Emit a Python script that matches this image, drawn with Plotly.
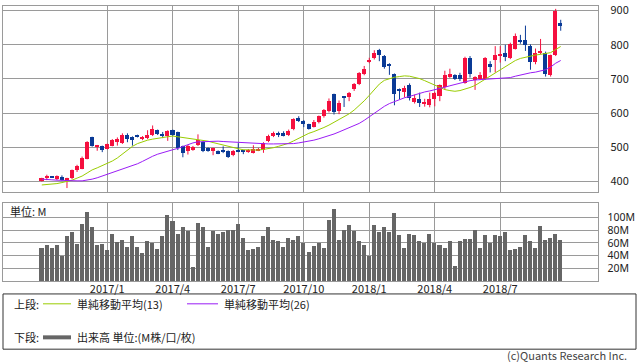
import pandas as pd
import plotly.graph_objects as go

# ---------------- data (weekly) ----------------
weeks = pd.date_range("2016-10-03", periods=104, freq="7D")

opens = [404, 411, 415, 408, 414, 404, 409, 434, 438, 467,
         529, 502, 503, 496, 505, 515, 514, 535, 530, 535,
         524, 527, 537, 550, 536, 532, 550, 544, 503, 488,
         493, 508, 515, 498, 489, 489, 489, 489, 477, 493,
         491, 487, 484, 491, 491, 519, 534, 542, 542, 535,
         553, 585, 577, 567, 561, 575, 591, 606, 655, 606,
         648, 647, 671, 686, 714, 751, 760, 784, 767, 741,
         714, 671, 663, 683, 633, 642, 630, 623, 642, 649,
         676, 707, 711, 711, 688, 762, 697, 700, 700, 743,
         756, 768, 775, 762, 788, 815, 813, 796, 750, 778,
         777, 711, 769, 865]
highs = [411, 420, 416, 418, 418, 411, 435, 449, 473, 518,
         531, 507, 505, 511, 524, 529, 541, 541, 532, 537,
         533, 550, 564, 552, 545, 550, 552, 546, 505, 507,
         504, 538, 518, 500, 499, 491, 503, 491, 492, 512,
         493, 495, 506, 498, 515, 537, 546, 546, 547, 552,
         585, 591, 580, 569, 580, 593, 612, 643, 657, 637,
         649, 662, 688, 720, 738, 762, 784, 788, 770, 746,
         716, 672, 680, 687, 654, 660, 642, 660, 662, 684,
         724, 730, 714, 718, 765, 767, 708, 720, 764, 752,
         796, 796, 800, 806, 833, 829, 856, 801, 789, 817,
         780, 771, 905, 873]
lows = [400, 404, 411, 404, 403, 381, 407, 428, 436, 465,
        502, 490, 486, 494, 503, 505, 510, 515, 505, 529,
        521, 524, 533, 536, 527, 519, 533, 492, 471, 479,
        490, 504, 486, 487, 477, 480, 483, 469, 474, 486,
        480, 484, 482, 489, 484, 515, 530, 530, 532, 533,
        550, 574, 559, 552, 558, 570, 587, 602, 596, 597,
        618, 635, 665, 682, 711, 746, 757, 752, 730, 712,
        623, 640, 646, 637, 628, 618, 619, 617, 620, 635,
        668, 703, 697, 694, 686, 704, 668, 697, 697, 719,
        719, 748, 752, 758, 786, 803, 782, 727, 743, 772,
        707, 707, 767, 841]
closes = [409, 414, 413, 416, 404, 409, 433, 445, 470, 515,
          505, 504, 493, 509, 521, 525, 535, 524, 522, 531,
          530, 536, 555, 538, 534, 547, 535, 497, 484, 505,
          502, 522, 490, 490, 497, 482, 488, 472, 489, 488,
          488, 493, 496, 496, 512, 534, 541, 536, 534, 548,
          582, 577, 568, 555, 575, 592, 609, 637, 604, 631,
          646, 659, 686, 717, 728, 755, 777, 771, 734, 739,
          655, 664, 674, 645, 645, 630, 632, 642, 659, 681,
          711, 714, 700, 700, 762, 714, 706, 711, 762, 736,
          769, 770, 764, 801, 827, 811, 799, 750, 775, 780,
          714, 769, 900, 854]

sma13 = [390, 391, 392, 394, 397, 400, 404, 410, 416, 425,
         434, 440, 446, 452, 460, 469, 480, 492, 503, 511,
         517, 521, 524, 527, 529, 531, 533, 531, 528, 527,
         525, 523, 521, 518, 514, 510, 506, 502, 499, 496,
         493, 492, 492, 492, 494, 496, 499, 503, 507, 512,
         519, 527, 534, 541, 546, 551, 558, 565, 573, 581,
         589, 598, 609, 622, 636, 652, 669, 685, 696, 701,
         705, 707, 709, 708, 705, 701, 695, 688, 681, 675,
         669, 666, 664, 666, 670, 675, 681, 690, 700, 708,
         716, 725, 735, 745, 754, 760, 764, 767, 770, 772,
         774, 777, 786, 795]
sma26 = [407, 407, 405, 404, 403, 402, 402, 402, 402, 404,
         407, 411, 416, 421, 426, 431, 436, 441, 446, 452,
         459, 467, 474, 480, 485, 489, 493, 497, 503, 509,
         513, 516, 517, 518, 518, 518, 517, 516, 515, 514,
         513, 512, 511, 510, 510, 510, 510, 510, 510, 510,
         511, 513, 515, 518, 521, 525, 529, 534, 539, 545,
         551, 557, 563, 570, 579, 589, 600, 611, 620, 628,
         634, 639, 645, 649, 654, 658, 662, 665, 668, 672,
         676, 680, 684, 688, 692, 695, 697, 698, 699, 700,
         700, 700, 701, 704, 708, 712, 715, 718, 720, 723,
         727, 735, 746, 754]

volume_m = [52, 56, 52, 56, 39, 71, 76, 58, 90, 108,
            85, 56, 58, 48, 74, 61, 64, 54, 70, 54,
            44, 62, 60, 50, 70, 104, 94, 73, 84, 78,
            22, 91, 84, 54, 78, 74, 76, 80, 80, 90,
            67, 48, 51, 54, 71, 85, 64, 62, 53, 67,
            65, 71, 59, 45, 55, 60, 52, 95, 113, 65,
            80, 88, 78, 63, 57, 39, 88, 76, 85, 76,
            107, 72, 52, 74, 72, 63, 59, 73, 59, 56,
            52, 62, 23, 63, 66, 66, 80, 52, 72, 59,
            72, 70, 77, 49, 50, 53, 72, 62, 52, 86,
            65, 67, 74, 65]

tick_dates = ["2017-01-02", "2017-04-03", "2017-07-03", "2017-10-02",
              "2018-01-01", "2018-04-02", "2018-07-02"]
tick_labels = ["2017/1", "2017/4", "2017/7", "2017/10",
               "2018/1", "2018/4", "2018/7"]
price_ticks = [400, 500, 600, 700, 800, 900]
volume_ticks = [20, 40, 60, 80, 100]
volume_tick_labels = ["20M", "40M", "60M", "80M", "100M"]

# ---------------- styles ----------------
UP = "#f5103f"
DOWN = "#0a3a96"
MA13_C = "#99cc00"
MA26_C = "#9a1cf5"
VOL_C = "#666666"
GRID = "#9a9a9a"
TXT = "#222222"
FONT = "Noto Sans CJK JP, Noto Sans, sans-serif"

W, H = 638, 362
WEEK_MS = 7 * 24 * 3600 * 1000
bar_w = 0.8 * WEEK_MS

x_left = weeks[0] - pd.Timedelta(days=7 * 7.64)
x_right = weeks[0] + pd.Timedelta(days=7 * 110.46)

fig = go.Figure()

# wicks
for is_up, col in [(True, UP), (False, DOWN)]:
    xs, ys = [], []
    for d, o, h, l, c in zip(weeks, opens, highs, lows, closes):
        if (c >= o) == is_up:
            xs += [d, d, None]
            ys += [l, h, None]
    fig.add_trace(go.Scatter(x=xs, y=ys, mode="lines",
                             line=dict(color=col, width=1),
                             hoverinfo="skip", xaxis="x", yaxis="y"))

# bodies
for is_up, col in [(True, UP), (False, DOWN)]:
    bx, bbase, bh = [], [], []
    for d, o, c in zip(weeks, opens, closes):
        if (c >= o) == is_up:
            lo, hi = min(o, c), max(o, c)
            hgt = hi - lo
            if hgt < 3:
                mid = (lo + hi) / 2
                lo, hgt = mid - 1.5, 3
            bx.append(d)
            bbase.append(lo)
            bh.append(hgt)
    fig.add_trace(go.Bar(x=bx, y=bh, base=bbase, width=bar_w,
                         marker=dict(color=col, line=dict(width=0)),
                         xaxis="x", yaxis="y"))

# moving averages
fig.add_trace(go.Scatter(x=weeks, y=sma13, mode="lines",
                         line=dict(color=MA13_C, width=1),
                         xaxis="x", yaxis="y"))
fig.add_trace(go.Scatter(x=weeks, y=sma26, mode="lines",
                         line=dict(color=MA26_C, width=1),
                         xaxis="x", yaxis="y"))

# volume
fig.add_trace(go.Bar(x=weeks, y=volume_m, width=bar_w,
                     marker=dict(color=VOL_C, line=dict(width=0)),
                     xaxis="x2", yaxis="y2"))

xdom = [3.3 / W, 598.3 / W]
axis_common = dict(showgrid=True, gridcolor=GRID, gridwidth=1,
                   showline=True, mirror=True, linecolor=GRID, linewidth=1,
                   zeroline=False, ticks="")

fig.update_layout(
    width=W, height=H,
    margin=dict(l=0, r=0, t=0, b=0),
    paper_bgcolor="white", plot_bgcolor="white",
    showlegend=False, barmode="overlay", bargap=0,
    font=dict(family=FONT, size=11, color=TXT),
    xaxis=dict(domain=xdom, type="date", range=[x_left, x_right],
               tickvals=tick_dates, showticklabels=False,
               anchor="y", **axis_common),
    yaxis=dict(domain=[1 - 190 / H, 1 - 1 / H], range=[368.3, 913.4],
               tickvals=price_ticks, side="right", anchor="x",
               ticklabelstandoff=9, ticklabeloverflow="allow",
               **axis_common),
    xaxis2=dict(domain=xdom, type="date", range=[x_left, x_right],
                matches="x", tickvals=tick_dates, ticktext=tick_labels,
                anchor="y2", ticklabelstandoff=-3, **axis_common),
    yaxis2=dict(domain=[1 - 280.3 / H, 1 - 201 / H], range=[0, 122],
                tickvals=volume_ticks, ticktext=volume_tick_labels,
                side="right", anchor="x2", ticklabelstandoff=6,
                tickfont=dict(size=10.5, family="Noto Sans, sans-serif"),
                **axis_common),
)

def px(x):
    return x / W

def py(y):
    return 1 - y / H

annotations = [
    dict(x=px(8), y=py(209), text="単位: M"),
    dict(x=px(12), y=py(303), text="上段:"),
    dict(x=px(75), y=py(303), text="単純移動平均(13)"),
    dict(x=px(222), y=py(303), text="単純移動平均(26)"),
    dict(x=px(12), y=py(337), text="下段:"),
    dict(x=px(75), y=py(337), text="出来高 単位:(M株/口/枚)"),
]
for a in annotations:
    fig.add_annotation(xref="paper", yref="paper", xanchor="left",
                       yanchor="middle", showarrow=False,
                       font=dict(size=11, color=TXT, family=FONT), **a)
fig.add_annotation(xref="paper", yref="paper", x=px(629), y=py(355),
                   xanchor="right", yanchor="middle", showarrow=False,
                   text="(c)Quants Research Inc.",
                   font=dict(size=11, color="#444444", family=FONT))

shapes = [
    dict(type="rect", xref="paper", yref="paper",
         x0=px(3), x1=px(636), y0=py(349), y1=py(293),
         line=dict(color="#333333", width=1)),
    dict(type="line", xref="paper", yref="paper",
         x0=px(43), x1=px(71), y0=py(303), y1=py(303),
         line=dict(color=MA13_C, width=1)),
    dict(type="line", xref="paper", yref="paper",
         x0=px(187), x1=px(218), y0=py(303), y1=py(303),
         line=dict(color=MA26_C, width=1)),
    dict(type="line", xref="paper", yref="paper",
         x0=px(43), x1=px(71), y0=py(337), y1=py(337),
         line=dict(color=VOL_C, width=4)),
]
fig.update_layout(shapes=shapes)

fig.write_html(
    "out.html",
    config={"displayModeBar": False},
    post_script="document.body.style.margin='0';document.body.style.padding='0';",
)
